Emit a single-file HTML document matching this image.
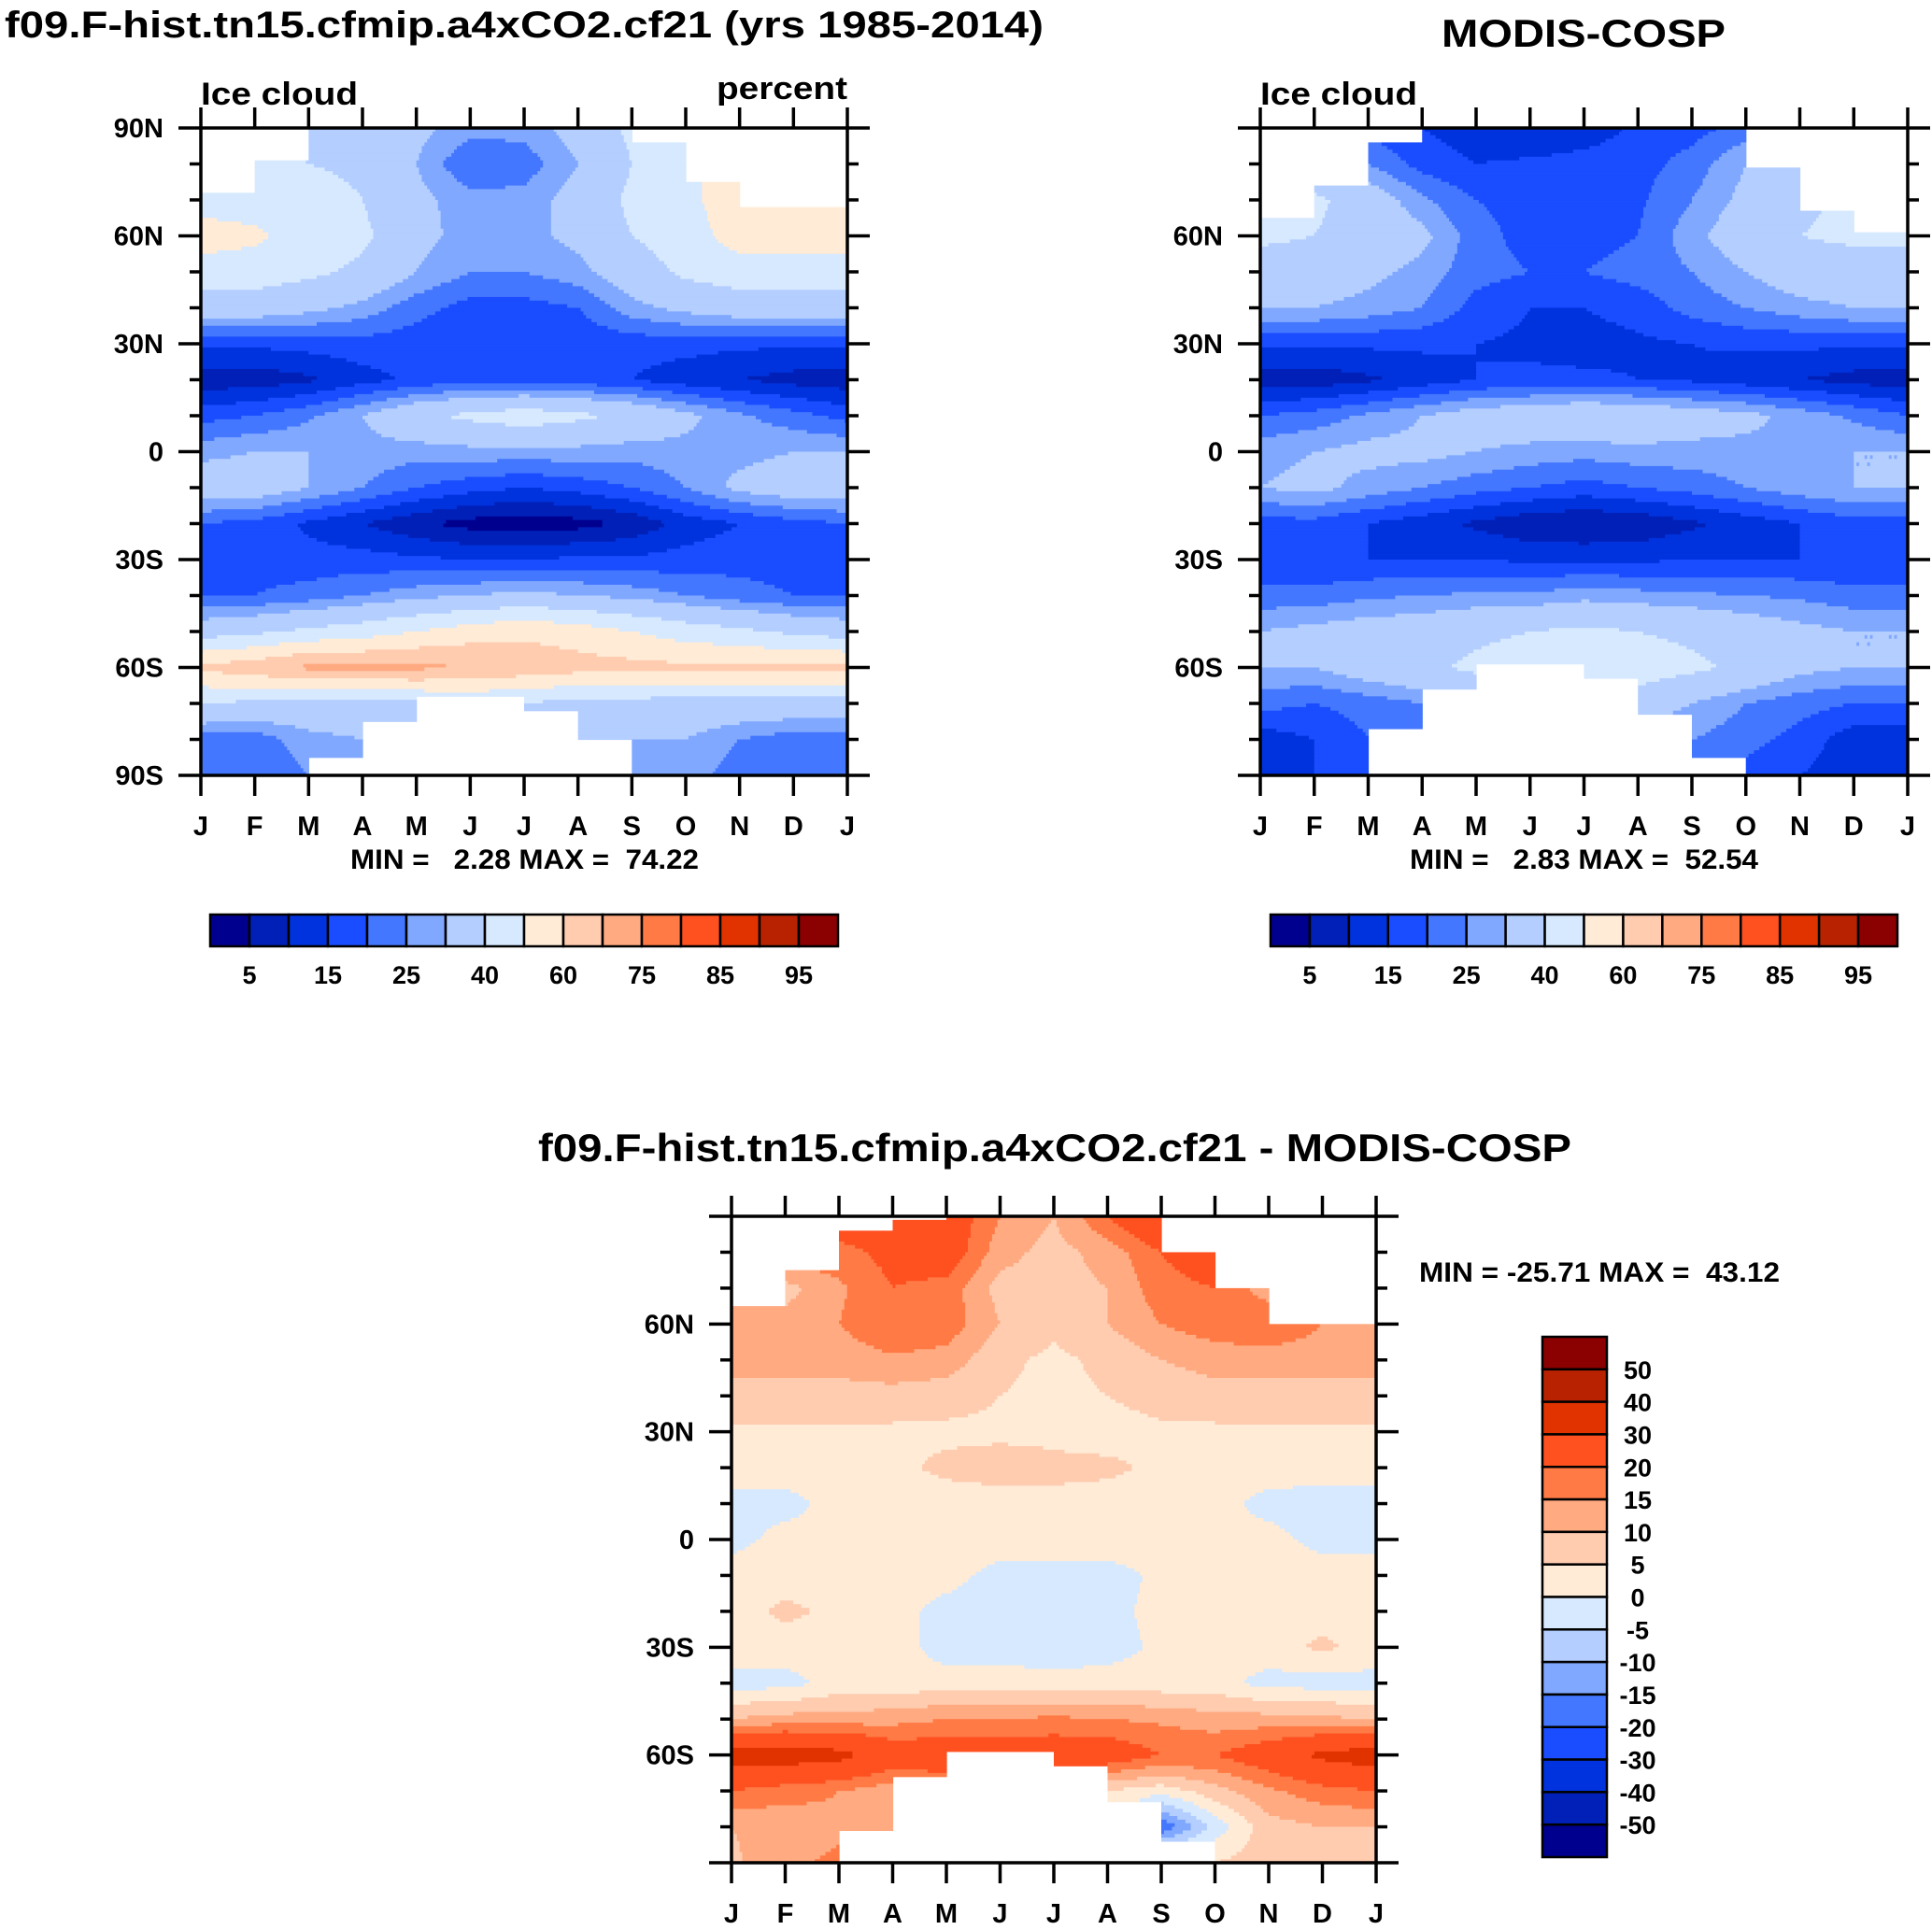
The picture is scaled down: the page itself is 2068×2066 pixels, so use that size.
<!DOCTYPE html>
<html><head><meta charset="utf-8"><style>
html,body{margin:0;padding:0;background:#fff;}
svg{display:block;font-family:"Liberation Sans",sans-serif;font-weight:bold;}
</style></head><body>
<svg id="root" width="2068" height="2066" viewBox="0 0 2068 2066" xmlns="http://www.w3.org/2000/svg">
<g id="p1"></g>
<g id="p2"></g>
<g id="p3"></g>
<text x="5" y="40" font-size="40" textLength="1112" lengthAdjust="spacingAndGlyphs">f09.F-hist.tn15.cfmip.a4xCO2.cf21 (yrs 1985-2014)</text>
<text x="1543" y="50" font-size="42" textLength="304" lengthAdjust="spacingAndGlyphs">MODIS-COSP</text>
<text x="576" y="1243" font-size="42" textLength="1106" lengthAdjust="spacingAndGlyphs">f09.F-hist.tn15.cfmip.a4xCO2.cf21 - MODIS-COSP</text>
<text x="215" y="112" font-size="34" textLength="168" lengthAdjust="spacingAndGlyphs">Ice cloud</text>
<text x="907" y="106" font-size="34" text-anchor="end" textLength="140" lengthAdjust="spacingAndGlyphs">percent</text>
<text x="1349" y="112" font-size="34" textLength="168" lengthAdjust="spacingAndGlyphs">Ice cloud</text>
<text x="375" y="930" font-size="30" xml:space="preserve" textLength="373" lengthAdjust="spacingAndGlyphs">MIN =   2.28 MAX =  74.22</text>
<text x="1509" y="930" font-size="30" xml:space="preserve" textLength="373" lengthAdjust="spacingAndGlyphs">MIN =   2.83 MAX =  52.54</text>
<text x="1519" y="1372" font-size="30" xml:space="preserve" textLength="386" lengthAdjust="spacingAndGlyphs">MIN = -25.71 MAX =  43.12</text>
</svg>
<script>
const months = ["J","F","M","A","M","J","J","A","S","O","N","D","J"];
const lats = [90,80,70,60,50,40,30,20,10,0,-10,-20,-30,-40,-50,-60,-70,-80,-90];
const absLevels = [5,10,15,20,25,30,40,50,60,70,75,80,85,90,95];
const absLabels = ["5","15","25","40","60","75","85","95"];
const diffLevels = [-50,-40,-30,-20,-15,-10,-5,0,5,10,15,20,30,40,50];
const diffLabels = ["50","40","30","20","15","10","5","0","-5","-10","-15","-20","-30","-40","-50"];
const colors = ["#00008f","#0020b8","#0033dd","#1a4dff","#4477ff","#80a8ff","#b3ceff","#d6e9ff","#ffebd6","#ffccb0","#ffaa80","#ff7a45","#ff5020","#e03300","#b82200","#8b0000"];
const modelVals = [
[38,38,38,38,32,27,27,33,42,45,45,45,45],
[42,42,40,38,30,20,22,30,40,48,55,55,55],
[45,45,45,40,32,27,27,33,42,48,55,55,55],
[55,52,45,42,32,28,28,32,40,45,55,55,55],
[45,45,42,38,30,25,25,28,35,42,45,45,45],
[35,35,32,28,22,18,18,20,28,32,35,35,35],
[16,16,17,18,17,15,15,16,17,17,16,16,16],
[7,7,9,13,16,18,18,17,15,12,10,8,7],
[18,20,24,30,38,42,45,42,38,32,26,22,18],
[28,30,30,28,27,28,28,28,27,28,28,30,30],
[35,35,30,25,20,17,15,17,20,25,32,35,35],
[20,18,14,10,6,3,2,3,6,12,15,18,20],
[18,18,17,17,16,15,15,16,16,17,18,18,18],
[20,20,22,25,28,30,32,30,28,25,22,20,20],
[35,38,42,45,50,55,58,55,50,45,42,38,35],
[62,66,72,72,72,70,66,64,63,62,62,62,62],
[40,38,36,36,38,40,40,36,36,36,36,36,36],
[22,22,28,30,30,30,30,30,30,30,25,22,22],
[20,20,25,28,28,28,28,28,28,28,22,20,20]];
const obsVals = [
[20,20,18,15,12,10,12,16,18,22,25,28,30],
[35,32,25,18,15,16,17,18,22,30,35,38,40],
[45,42,35,26,20,18,18,19,25,32,38,42,45],
[42,40,36,32,22,18,18,20,28,35,40,42,42],
[35,35,32,28,22,20,20,22,25,30,35,35,35],
[30,30,28,25,18,15,15,17,22,25,28,30,30],
[16,16,16,16,15,14,13,14,15,16,16,16,16],
[7,7,9,12,15,16,16,15,14,12,10,8,7],
[20,22,26,30,34,36,38,37,34,32,28,24,20],
[28,30,32,32,30,28,27,28,28,28,28,30,30],
[30,32,28,25,22,20,18,20,22,25,28,30,30],
[18,18,15,12,9,6,5,6,9,12,15,18,18],
[15,15,15,15,15,14,14,14,15,15,15,15,15],
[22,22,24,25,26,26,28,27,26,25,24,22,22],
[30,32,34,35,38,40,42,40,38,35,32,30,30],
[30,30,35,38,42,45,45,45,42,38,32,30,30],
[22,20,22,25,30,35,35,35,30,25,22,20,20],
[12,15,20,25,25,25,25,25,25,22,18,12,12],
[15,15,18,20,20,20,20,20,20,18,15,12,15]];
const diffVals = [
[20,20,25,25,25,15,10,20,30,25,20,20,20],
[20,20,18,22,25,12,8,12,20,25,18,18,18],
[10,8,14,20,18,8,8,10,18,20,12,15,15],
[12,12,15,20,18,10,6,10,15,18,20,15,15],
[12,12,12,14,13,6,4,6,10,12,12,12,12],
[8,8,8,8,7,5,4,5,7,8,8,8,8],
[4,4,4,4,4,4,4,3,4,4,4,4,4],
[3,3,3,4,6,7,6,6,4,3,3,3,3],
[-2,-2,2,2,3,3,4,3,3,2,-2,-3,-3],
[-2,2,2,2,3,3,3,3,3,2,2,-2,-2],
[3,3,3,3,2,-2,-2,-2,1,2,3,3,3],
[3,6,4,2,-2,-3,-3,-2,2,3,3,3,3],
[3,3,3,2,-2,-2,-3,-2,1,2,3,6,3],
[-2,-2,2,2,2,2,2,2,2,2,-2,-2,-2],
[10,12,12,13,15,15,16,15,14,12,12,11,10],
[35,35,33,25,25,25,25,25,20,20,25,32,35],
[20,17,15,12,15,15,8,5,2,8,14,18,20],
[10,12,14,12,10,10,8,5,-20,-3,8,10,10],
[9,14,16,12,10,10,8,8,8,5,8,9,9]];
// missing-data limits per month interval (latitude degrees)
const modelTop = [72,81,90,90,90,90,90,90,86,75,68,68];
const modelBot = [-90,-90,-85,-75,-67.5,-67.5,-71.5,-80,-90,-90,-90,-90];
const obsTop = [65,74,85.5,90,90,90,90,90,90,79,67,60.5];
const obsBot = [-90,-90,-76.5,-65.5,-58.8,-58.8,-63,-72.5,-84.5,-90,-90,-90];
const diffTop = [65,74.6,86,89,90,90,90,90,79.8,70,59.5,59.5];
const diffBot = [-90,-90,-81,-65.5,-58.8,-58.8,-62.6,-73,-84,-90,-90,-90];

const NS="http://www.w3.org/2000/svg";
function mk(tag,attrs,parent){const e=document.createElementNS(NS,tag);for(const k in attrs)e.setAttribute(k,attrs[k]);parent.appendChild(e);return e;}
function level(v,lv){let i=0;while(i<lv.length&&v>=lv[i])i++;return i;}
function sample(vals,mf,lat){
  let r=(90-lat)/10; r=Math.max(0,Math.min(18,r));
  mf=Math.max(0,Math.min(12,mf));
  const r0=Math.min(17,Math.floor(r)), c0=Math.min(11,Math.floor(mf));
  const fr=r-r0, fc=mf-c0;
  const a=vals[r0][c0],b=vals[r0][c0+1],c=vals[r0+1][c0],d=vals[r0+1][c0+1];
  return a*(1-fr)*(1-fc)+b*(1-fr)*fc+c*fr*(1-fc)+d*fr*fc;
}
function drawPanel(g,vals,top,bot,lv,x0,y0,w,h,yLabels,name){
  const xS=m=>x0+m/12*w, yS=l=>y0+(90-l)/180*h;
  const field=mk('g',{},g);
  
  
  const NX=240, NY=180;
  for(let j=0;j<NY;j++){
    const lat=90-(j+0.5)*180/NY;
    let runStart=null,runC=null;
    const flush=(end)=>{ if(runC!==null){mk('rect',{x:xS(runStart).toFixed(2),y:yS(90-j*180/NY).toFixed(2),width:(xS(end)-xS(runStart)+0.6).toFixed(2),height:(h/NY+0.6).toFixed(2),fill:colors[runC]},field);} };
    for(let i=0;i<NX;i++){
      const m=(i+0.5)*12/NX; const mi=Math.floor(m);
      let c=null;
      if(lat<=top[mi] && lat>=bot[mi]) c=level(sample(vals,m,lat),lv);
      const ms=i*12/NX;
      if(c!==runC){flush(ms);runStart=ms;runC=c;}
    }
    flush(12);
  }
  const ax=mk('g',{stroke:'#000','stroke-width':3.5,fill:'none'},g);
  
  
  mk('rect',{x:x0,y:y0,width:w,height:h},ax);
  for(let m=0;m<=12;m++){
    const x=xS(m);
    mk('line',{x1:x,y1:y0,x2:x,y2:y0-22},ax);
    mk('line',{x1:x,y1:y0+h,x2:x,y2:y0+h+22},ax);
    const t=mk('text',{x:x,y:y0+h+64,'font-size':29,'text-anchor':'middle',stroke:'none',fill:'#000'},g);
    t.textContent=months[m];
    
    
  }
  for(let l=-90;l<=90;l+=10){
    const y=yS(l), major=(l%30===0), len=major?24:12;
    mk('line',{x1:x0,y1:y,x2:x0-len,y2:y},ax);
    mk('line',{x1:x0+w,y1:y,x2:x0+w+len,y2:y},ax);
    if(major && (yLabels || Math.abs(l)!==90)){
      const t=mk('text',{x:x0-40,y:y+10,'font-size':29,'text-anchor':'end',stroke:'none',fill:'#000'},g);
      t.textContent = l===0?'0':(Math.abs(l)+(l>0?'N':'S'));
      
      
    }
  }
}
function hbar(g,x0,y0,w,h,name){
  const cb=mk('g',{},g);
  
  
  const bw=w/16;
  colors.forEach((c,i)=>mk('rect',{x:x0+i*bw,y:y0,width:bw,height:h,fill:c,stroke:'#000','stroke-width':2.5},cb));
  absLabels.forEach((s,k)=>{const t=mk('text',{x:x0+(2*k+1)*bw,y:y0+h+40,'font-size':27,'text-anchor':'middle'},cb);t.textContent=s;
    
    });
}
drawPanel(document.getElementById('p1'),modelVals,modelTop,modelBot,absLevels,215,137,692,693,true,'model');
drawPanel(document.getElementById('p2'),obsVals,obsTop,obsBot,absLevels,1349,137,693,693,false,'obs');
drawPanel(document.getElementById('p3'),diffVals,diffTop,diffBot,diffLevels,783,1302,690,692,false,'diff');
hbar(document.getElementById('p1'),225,979,672,34,'model');
hbar(document.getElementById('p2'),1360,979,671,34,'obs');
(function(){
  const g=document.getElementById('p3');
  const cb=mk('g',{},g);
  
  
  const x0=1651,y0=1431,w=69,h=557,bh=h/16;
  colors.slice().reverse().forEach((c,i)=>mk('rect',{x:x0,y:y0+i*bh,width:w,height:bh,fill:c,stroke:'#000','stroke-width':2.5},cb));
  diffLabels.forEach((s,k)=>{const t=mk('text',{x:1753,y:y0+(k+1)*bh+10,'font-size':27,'text-anchor':'middle'},cb);t.textContent=s;
    
    });
})();
</script>
</body></html>
